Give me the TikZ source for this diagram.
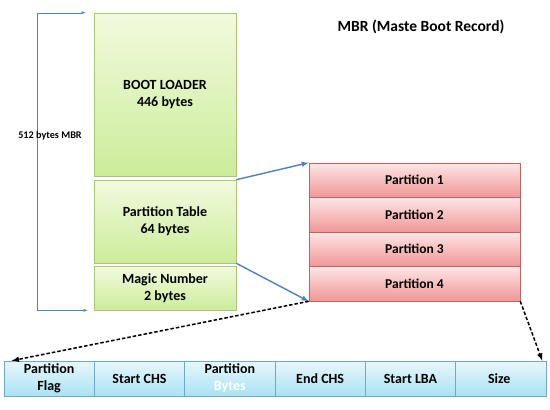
\documentclass[tikz,border=0pt]{standalone}
\usepackage{fontspec}
\setmainfont{Carlito}
\usetikzlibrary{arrows, calc, positioning}
\definecolor{greentop}{RGB}{242, 250, 222}
\definecolor{greenbot}{RGB}{204, 236, 155}
\definecolor{greenline}{RGB}{170, 196, 120}
\definecolor{redtop}{RGB}{253, 230, 230}
\definecolor{redbot}{RGB}{240, 150, 150}
\definecolor{redline}{RGB}{190, 100, 100}
\definecolor{bluetop}{RGB}{232, 247, 252}
\definecolor{bluebot}{RGB}{170, 226, 244}
\definecolor{blueline}{RGB}{110, 170, 195}
\definecolor{myblue}{RGB}{79, 129, 189}

\begin{document}
\begin{tikzpicture}[x=1pt, y=-1pt, line width=0.6pt, >=latex,
	greenbox/.style={draw=greenline, top color=greentop, bottom color=greenbot,
		minimum width=142pt, inner sep=0pt, align=center,
		font=\bfseries\fontsize{14}{17}\selectfont},
	redbox/.style={draw=redline, top color=redtop, bottom color=redbot,
		minimum width=211pt, minimum height=34.5pt, inner sep=0pt,
		font=\bfseries\fontsize{13.5}{16}\selectfont},
	fieldbox/.style={draw=blueline, top color=bluetop, bottom color=bluebot,
		minimum width=90.33pt, minimum height=35pt, inner sep=0pt, align=center,
		font=\bfseries\fontsize{14}{17}\selectfont}]
	
	\useasboundingbox (0,0) rectangle (550,410);
	
	% title
	\node[font=\bfseries\fontsize{15.5}{18}\selectfont] (title) at (421,27) {MBR (Maste Boot Record)};
	
	% MBR blocks
	\node[greenbox, minimum height=163pt] (boot) at (165,94.5) {BOOT LOADER\\446 bytes};
	\node[greenbox, minimum height=83pt] (ptable) at (165,221.5) {Partition Table\\64 bytes};
	\node[greenbox, minimum height=44pt] (magic) at (165,288) {Magic Number\\2 bytes};
	
	% size bracket
	\coordinate (topend) at ($(boot.north west)+(-8,0)$);
	\coordinate (botend) at ($(magic.south west)+(-6,0)$);
	\draw[->, myblue, line width=0.4pt] (topend -| 37,0) -- (topend);
	\draw[->, myblue, line width=0.4pt] (37,0 |- botend) -- (botend);
	\draw[myblue, line width=0.4pt] (topend -| 37,0) -- (37,0 |- botend);
	\node[font=\bfseries\fontsize{10.2}{12}\selectfont] (size) at (50,136) {512 bytes MBR};
	
	% partition entries
	\foreach \i/\y in {1/180.25, 2/214.75, 3/249.25, 4/283.75}{
		\node[redbox] (p\i) at (414.5,\y) {Partition \i};
	}
	
	% table to partitions
	\draw[->, myblue, line width=1.4pt] (ptable.north east) -- (p1.north west);
	\draw[->, myblue, line width=1.4pt] (ptable.south east) -- (p4.south west);
	
	% entry fields
	\foreach \i/\txt in {
		1/{Partition\\Flag},
		2/{Start CHS},
		3/{Partition\\\textcolor{white}{Bytes}},
		4/{End CHS},
		5/{Start LBA},
		6/{Size}
	}{
		\node[fieldbox] (f\i) at ({4+45.17+(\i-1)*90.33},378.5) {\txt};
	}
	
	% entry to fields
	\coordinate (fleft) at ($(f1.north west)+(8,0)$);
	\coordinate (fright) at ($(f6.north east)+(-4,0)$);
	\draw[->, dash pattern=on 3.5pt off 2pt, line width=1.5pt] (p4.south west) -- (fleft);
	\draw[->, dash pattern=on 3.5pt off 2pt, line width=1.5pt] (p4.south east) -- (fright);
	
\end{tikzpicture}
\end{document}
